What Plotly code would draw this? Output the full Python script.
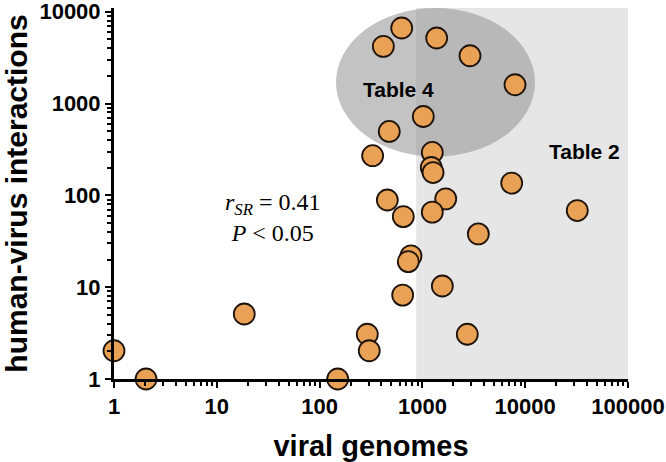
import plotly.graph_objects as go

# viral genomes (x) vs human-virus interactions (y)
viral_genomes = [629, 417, 1377, 2904, 7960, 1020, 476, 328, 1248, 1220, 1270,
                 456, 652, 1686, 1248, 3500, 7390, 32100, 774, 729, 1563, 643,
                 2734, 291, 304, 150, 18.5, 1, 2.05]
interactions = [6640, 4190, 5170, 3313, 1600, 722, 496, 270, 293, 201, 177,
                89, 58.7, 91.6, 65.6, 38, 136, 68.3, 21.9, 19, 10.3, 8.2,
                3.07, 3.07, 2.03, 1, 5.1, 2.03, 1]

x_ticks = [1, 10, 100, 1000, 10000, 100000]
y_ticks = [1, 10, 100, 1000, 10000]

table2_x_start = 870      # left edge of "Table 2" region (viral genomes)
table2_x_end = 100000
ellipse_x = [10**2.16, 10**4.095]
ellipse_y = [10**2.42, 10**4.04]

x_minor = [d * m for d in x_ticks[:-1] for m in range(2, 10)]
y_minor = [d * m for d in y_ticks[:-1] for m in range(2, 10)]

fig = go.Figure()
fig.add_trace(go.Scatter(
    x=viral_genomes, y=interactions, mode="markers",
    marker=dict(size=21, color="#E9A255",
                line=dict(color="#1e130a", width=1.8)),
    cliponaxis=False, showlegend=False, hoverinfo="skip",
))

fig.add_shape(type="rect", xref="x", yref="paper",
              x0=table2_x_start, x1=table2_x_end, y0=0, y1=1,
              fillcolor="#e6e6e6", line=dict(width=0), layer="below")
fig.add_shape(type="circle", xref="x", yref="y",
              x0=ellipse_x[0], x1=ellipse_x[1], y0=ellipse_y[0], y1=ellipse_y[1],
              fillcolor="rgba(148,148,148,0.56)", line=dict(width=0), layer="below")

fig.add_annotation(text="<b>Table 4</b>", xref="paper", yref="paper",
                   x=0.554, y=0.779, xanchor="center", yanchor="middle", showarrow=False,
                   font=dict(family="Liberation Sans", size=21, color="black"))
fig.add_annotation(text="<b>Table 2</b>", xref="paper", yref="paper",
                   x=0.916, y=0.612, xanchor="center", yanchor="middle", showarrow=False,
                   font=dict(family="Liberation Sans", size=21, color="black"))
fig.add_annotation(text="<i>r</i><sub><i>SR</i></sub> = 0.41<br><i>P</i> &lt; 0.05",
                   xref="paper", yref="paper", x=0.309, y=0.435,
                   xanchor="center", yanchor="middle", showarrow=False,
                   align="center",
                   font=dict(family="Liberation Serif", size=24, color="black"))

tickfont = dict(family="Liberation Sans", size=22, color="black", weight="bold")
axis_common = dict(
    type="log", showgrid=False, zeroline=False, showline=True, automargin=False,
    linecolor="black", linewidth=3, ticks="outside", ticklen=6, tickwidth=2,
    tickcolor="black", tickfont=tickfont, ticklabeloverflow="allow",
)

fig.update_layout(
    template="none",
    width=666, height=462,
    margin=dict(l=114, r=38, t=8, b=83),
    plot_bgcolor="white", paper_bgcolor="white",
    xaxis=dict(range=[0, 5], tickvals=x_ticks, ticktext=[str(v) for v in x_ticks],
               minor=dict(tickvals=x_minor, ticks="outside", ticklen=4, tickwidth=2,
                          tickcolor="black", showgrid=False),
               title=dict(text="viral genomes", standoff=20,
                          font=dict(family="Liberation Sans", size=29, color="black", weight="bold")),
               **axis_common),
    yaxis=dict(range=[0, 4.04], tickvals=y_ticks, ticktext=[str(v) for v in y_ticks],
               minor=dict(tickvals=y_minor, ticks="outside", ticklen=4, tickwidth=2,
                          tickcolor="black", showgrid=False),
               title=dict(text="human-virus interactions", standoff=20,
                          font=dict(family="Liberation Sans", size=30, color="black", weight="bold")),
               **axis_common),
)

fig.write_html("out.html", config={"displayModeBar": False},
               post_script="document.body.style.margin='0';")
